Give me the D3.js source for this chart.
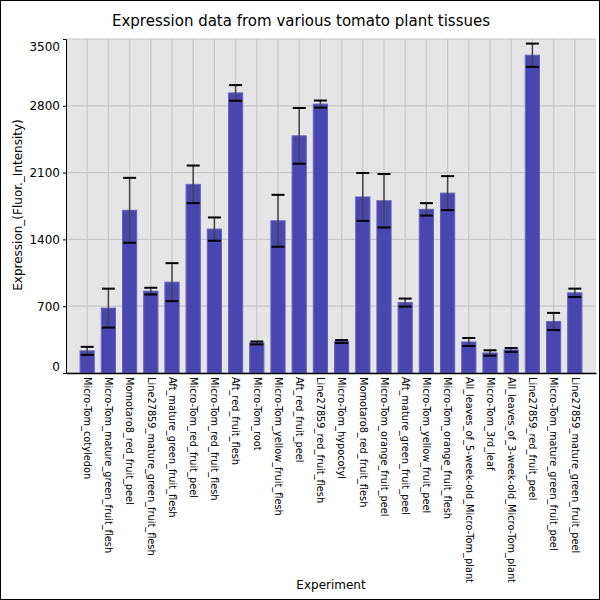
<!DOCTYPE html>
<html>
<head>
<meta charset="utf-8">
<script src="https://cdn.jsdelivr.net/npm/d3@7"></script>
<style>
  body { margin: 0; background: #fff; }
  svg { display: block; font-family: "DejaVu Sans", sans-serif; }
</style>
</head>
<body>
<div id="chart"></div>
<script>
// tissue names, in plotting order
const experiments = [
  "Micro-Tom_cotyledon", "Micro-Tom_mature_green_fruit_flesh", "Momotaro8_red_fruit_peel",
  "Line27859_mature_green_fruit_flesh", "Aft_mature_green_fruit_flesh", "Micro-Tom_red_fruit_peel",
  "Micro-Tom_red_fruit_flesh", "Aft_red_fruit_flesh", "Micro-Tom_root",
  "Micro-Tom_yellow_fruit_flesh", "Aft_red_fruit_peel", "Line27859_red_fruit_flesh",
  "Micro-Tom_hypocotyl", "Momotaro8_red_fruit_flesh", "Micro-Tom_orange_fruit_peel",
  "Aft_mature_green_fruit_peel", "Micro-Tom_yellow_fruit_peel", "Micro-Tom_orange_fruit_flesh",
  "All_leaves_of_5-week-old_Micro-Tom_plant", "Micro-Tom_3rd_leaf", "All_leaves_of_3-week-old_Micro-Tom_plant",
  "Line27859_red_fruit_peel", "Micro-Tom_mature_green_fruit_peel", "Line27859_mature_green_fruit_peel"
]
// mean expression
const expression = [
  232, 680, 1705, 858, 952, 1977, 1508, 2935, 315, 1595, 2485, 2818,
  330, 1845, 1805, 738, 1715, 1885, 325, 210, 242, 3330, 540, 840
]
// error (half length of the error bar)
const errors = [
  42, 204, 340, 35, 199, 197, 122, 82, 15, 272, 292, 37,
  15, 251, 280, 42, 65, 178, 42, 28, 20, 122, 90, 44
]
const yTicks = [0, 700, 1400, 2100, 2800, 3500]

const width = 600, height = 600
const margin = { top: 39, right: 4, bottom: 227, left: 66 }

const svg = d3.select("#chart").append("svg")
  .attr("width", width)
  .attr("height", height)

// outer frame
svg.append("rect")
  .attr("x", 0.5).attr("y", 0.5)
  .attr("width", width - 1).attr("height", height - 1)
  .attr("fill", "#fff")
  .attr("stroke", "#000")

const x = d3.scaleBand()
  .domain(experiments)
  .range([margin.left, width - margin.right])
  .paddingInner(0.33)
  .paddingOuter(0.665)

const y = d3.scaleLinear()
  .domain([0, 3500])
  .range([height - margin.bottom, margin.top])

const data = experiments.map((name, i) => ({ name, value: expression[i], err: errors[i] }))

// plot background
svg.append("rect")
  .attr("x", margin.left)
  .attr("y", margin.top)
  .attr("width", width - margin.right - margin.left)
  .attr("height", height - margin.bottom - margin.top)
  .attr("fill", "#e5e5e5")

// grid lines
svg.append("g")
  .selectAll("line")
  .data(yTicks)
  .join("line")
  .attr("x1", margin.left).attr("x2", width - margin.right)
  .attr("y1", d => y(d)).attr("y2", d => y(d))
  .attr("stroke", "#c6c6c6")
  .attr("stroke-width", 1.2)

svg.append("g")
  .selectAll("line")
  .data(experiments)
  .join("line")
  .attr("x1", d => x(d) + x.bandwidth() / 2).attr("x2", d => x(d) + x.bandwidth() / 2)
  .attr("y1", margin.top).attr("y2", height - margin.bottom)
  .attr("stroke", "#c6c6c6")
  .attr("stroke-width", 1.2)

// bars
svg.append("g")
  .selectAll("rect")
  .data(data)
  .join("rect")
  .attr("x", d => x(d.name))
  .attr("y", d => y(d.value))
  .attr("width", x.bandwidth())
  .attr("height", d => y(0) - y(d.value))
  .attr("fill", "#4a46b1")
  .attr("stroke", "#6360c0")
  .attr("stroke-width", 1)

// error bars
const errG = svg.append("g")
  .selectAll("g")
  .data(data)
  .join("g")
  .attr("transform", d => `translate(${x(d.name) + x.bandwidth() / 2},0)`)

errG.append("line")
  .attr("y1", d => y(d.value + d.err))
  .attr("y2", d => y(d.value - d.err))
  .attr("stroke", "#444")
  .attr("stroke-width", 1.5)

errG.selectAll(".cap")
  .data(d => [d.value + d.err, d.value - d.err])
  .join("line")
  .attr("class", "cap")
  .attr("x1", -6.5).attr("x2", 6.5)
  .attr("y1", v => y(v)).attr("y2", v => y(v))
  .attr("stroke", "#000")
  .attr("stroke-width", 2)

// y axis
const yAxis = svg.append("g")
  .attr("transform", `translate(${margin.left},0)`)
  .call(d3.axisLeft(y).tickValues(yTicks).tickFormat(d3.format("d")).tickSize(3).tickPadding(3).tickSizeOuter(0))
yAxis.select(".domain").attr("stroke", "#000")
yAxis.selectAll("text")
  .attr("font-size", 12)
  .attr("font-family", "DejaVu Sans")
  .attr("fill", "#000")
  .attr("dy", d => d === 0 ? "-0.2em" : d === 3500 ? "0.95em" : "0.32em")

// x axis
const xAxis = svg.append("g")
  .attr("transform", `translate(0,${height - margin.bottom})`)
  .call(d3.axisBottom(x).tickSize(0).tickSizeOuter(0))
xAxis.select(".domain").attr("stroke", "#000").attr("stroke-width", 1.3)
xAxis.selectAll("text")
  .attr("font-size", 9.8)
  .attr("font-family", "DejaVu Sans")
  .attr("fill", "#000")
  .attr("text-anchor", "start")
  .attr("transform", "rotate(90)")
  .attr("x", 4)
  .attr("y", 0)
  .attr("dy", "0.32em")

// titles
svg.append("text")
  .attr("x", 301)
  .attr("y", 26)
  .attr("text-anchor", "middle")
  .attr("font-size", 15)
  .text("Expression data from various tomato plant tissues")

svg.append("text")
  .attr("x", 331)
  .attr("y", 589)
  .attr("text-anchor", "middle")
  .attr("font-size", 12)
  .text("Experiment")

svg.append("text")
  .attr("transform", "translate(22,205) rotate(-90)")
  .attr("text-anchor", "middle")
  .attr("font-size", 12)
  .text("Expression_(Fluor._Intensity)")
</script>
</body>
</html>
